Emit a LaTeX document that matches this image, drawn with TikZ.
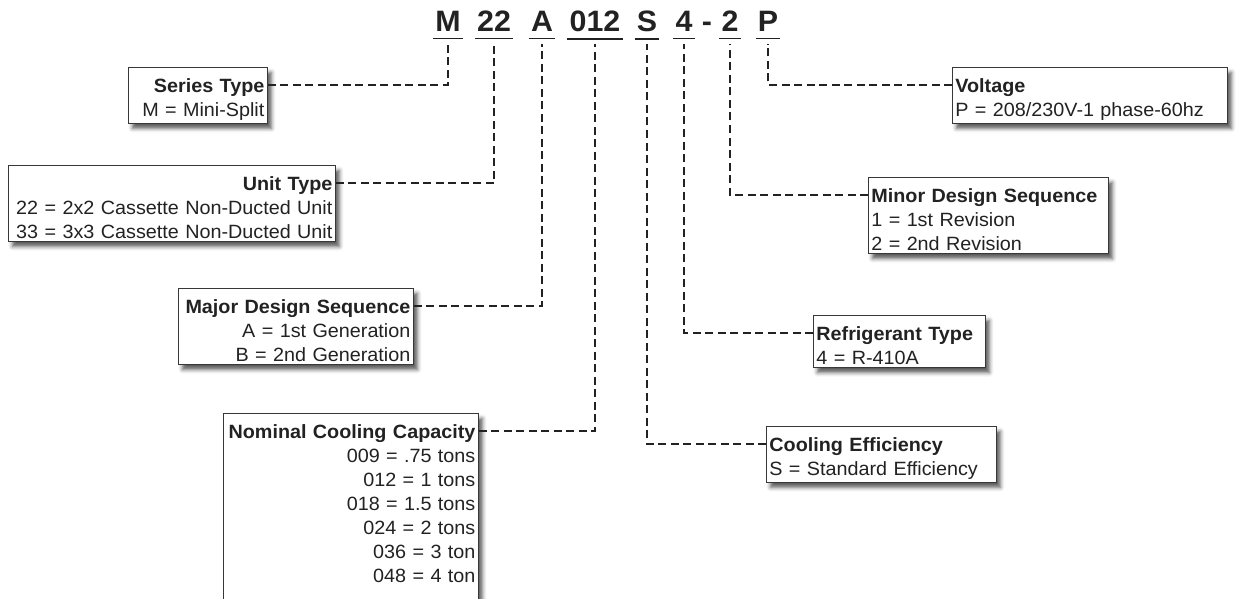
\documentclass[tikz,border=0pt]{standalone}
\usepackage{fontspec}
\setmainfont{Liberation Sans}[FakeStretch=1.03]
\usetikzlibrary{shadows.blur}
\definecolor{ink}{HTML}{222222}
\newcommand{\firstline}{\rule{0pt}{22pt}}
\hyphenpenalty=10000
\exhyphenpenalty=10000

\begin{document}
\begin{tikzpicture}[x=1pt,y=-1pt,
  code/.style={font=\fontsize{29.5}{31}\selectfont\bfseries, text=ink, anchor=base, inner xsep=2pt, inner ysep=6.5pt},
  infobox/.style={draw=ink!90, line width=0.8pt, fill=white, text=ink, inner xsep=3pt, inner ysep=3pt,
    font=\fontsize{19.2}{24}\selectfont, anchor=north west,
    blur shadow={shadow xshift=4pt, shadow yshift=-5pt, shadow blur radius=4pt, shadow opacity=65}},
  link/.style={draw=ink, line width=1.8pt, dash pattern=on 8pt off 4.5pt}]
\useasboundingbox (0,0) rectangle (1236,599);

% model number
\node[code] (cm) at (448,32) {M};
\node[code] (c22) at (494,32) {22};
\node[code] (ca) at (542,32) {A};
\node[code] (c012) at (595,32) {012};
\node[code] (cs) at (647,32) {S};
\node[code] (c4) at (684,32) {4};
\node[code] (cdash) at (707,32) {-};
\node[code] (c2) at (730,32) {2};
\node[code] (cp) at (768,32) {P};
\foreach \n in {cm,c22,ca,c012,cs,c4,c2,cp}
  \path[draw=ink,line width=1.6pt] (\n.south west) -- (\n.south east);

% left boxes
\node[infobox, text width=133pt, align=right] (series) at (128,67)
  {\firstline\textbf{Series Type}\\ M = Mini-Split};
\node[infobox, text width=321pt, align=right] (unit) at (8,165)
  {\firstline\textbf{Unit Type}\\ 22 = 2x2 Cassette Non-Ducted Unit\\ 33 = 3x3 Cassette Non-Ducted Unit};
\node[infobox, text width=229pt, align=right] (major) at (178,288)
  {\firstline\textbf{Major Design Sequence}\\ A = 1st Generation\\ B = 2nd Generation};
\node[infobox, text width=249pt, align=right] (capacity) at (223,413)
  {\firstline\textbf{Nominal Cooling Capacity}\\ 009 = .75 tons\\ 012 = 1 tons\\ 018 = 1.5 tons\\
   024 = 2 tons\\ 036 = 3 ton\\ 048 = 4 ton\rule[-20pt]{0pt}{0pt}};

% right boxes
\node[infobox, text width=269pt, align=left] (voltage) at (952,67)
  {\firstline\textbf{Voltage}\\ P = 208/230V-1 phase-60hz};
\node[infobox, text width=234pt, align=left] (minor) at (868,177)
  {\firstline\textbf{Minor Design Sequence}\\ 1 = 1st Revision\\ 2 = 2nd Revision};
\node[infobox, text width=166pt, align=left] (refrig) at (813,315)
  {\firstline\textbf{Refrigerant Type}\\ 4 = R-410A};
\node[infobox, text width=224pt, align=left] (eff) at (766,426)
  {\firstline\textbf{Cooling Efficiency}\\ S = Standard Efficiency};

% connectors
\path[link] ([yshift=-18pt]series.north east) -| ([yshift=-5pt]cm.south);
\path[link] ([yshift=-18pt]unit.north east) -| ([yshift=-5pt]c22.south);
\path[link] ([yshift=-18pt]major.north east) -| ([yshift=-5pt]ca.south);
\path[link] ([yshift=-18pt]capacity.north east) -| ([yshift=-5pt]c012.south);
\path[link] ([yshift=-18pt]voltage.north west) -| ([yshift=-5pt]cp.south);
\path[link] ([yshift=-18pt]minor.north west) -| ([yshift=-5pt]c2.south);
\path[link] ([yshift=-18pt]refrig.north west) -| ([yshift=-5pt]c4.south);
\path[link] ([yshift=-18pt]eff.north west) -| ([yshift=-5pt]cs.south);
\end{tikzpicture}
\end{document}
